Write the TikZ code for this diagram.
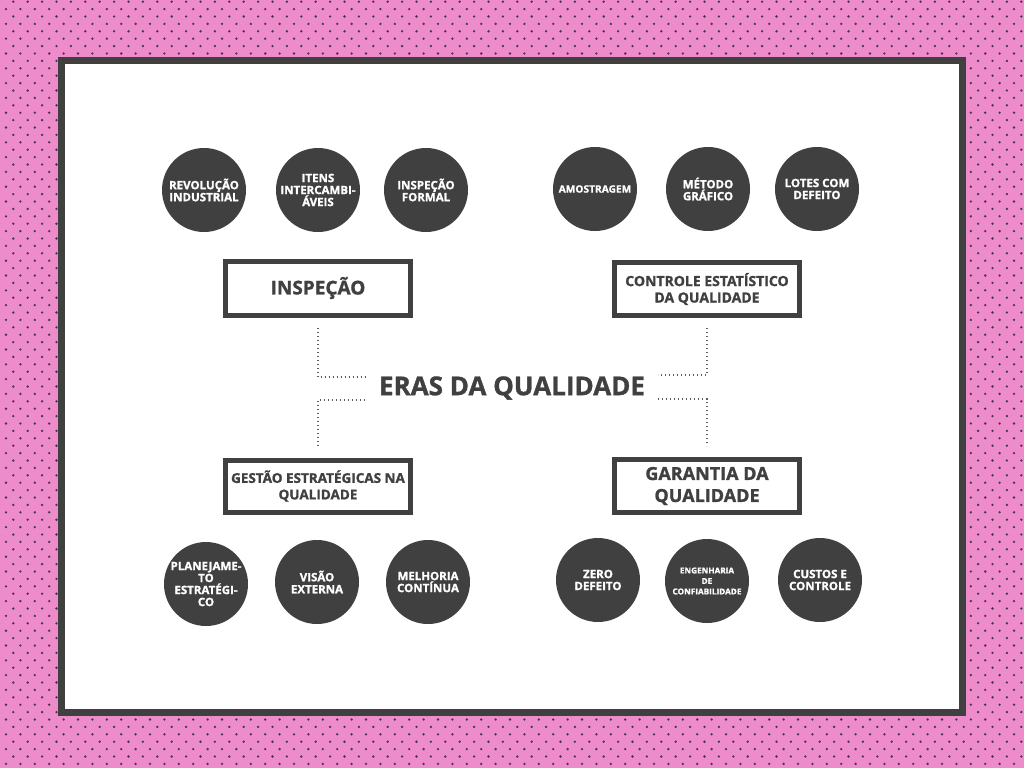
\documentclass[tikz,border=0pt]{standalone}
\usepackage{fontspec}
\setmainfont{Open Sans}[BoldFeatures={FakeBold=1.2}]
\definecolor{pinkbg}{RGB}{238,139,203}
\definecolor{dotc}{RGB}{62,58,72}
\definecolor{dg}{RGB}{64,64,64}
\tikzset{
  circ/.style={circle, fill=dg, text=white, minimum size=84pt, inner sep=0pt, align=center,
    font=\bfseries\fontsize{11.5}{12}\selectfont},
  box/.style={draw=dg, line width=5pt, fill=white, minimum width=185pt, inner sep=0pt,
    text=dg, align=center},
  dotline/.style={draw=dg!85, line width=1.1pt, dash pattern=on 1.1pt off 2.9pt}
}
\begin{document}
\begin{tikzpicture}[x=1pt,y=-1pt]
\useasboundingbox (0,0) rectangle (1024,768);
% background
\fill[pinkbg] (0,0) rectangle (1024,768);
% full rows (top and bottom bands)
\foreach \r in {0,1,2,3,4,48,49,50,51,52} {
  \fill[dotc] \foreach \c in {-1,...,71} { (13.3+14.4*\c, 1.7+14.8*\r) circle[radius=1.3pt] };
}
\foreach \r in {0,1,2,3,48,49,50,51} {
  \fill[dotc] \foreach \c in {0,...,71} { (6+14.4*\c, 9.1+14.8*\r) circle[radius=1.3pt] };
}
% side columns
\foreach \r in {5,...,47} {
  \fill[dotc] \foreach \c in {-1,0,1,2,3,66,67,68,69,70,71} { (13.3+14.4*\c, 1.7+14.8*\r) circle[radius=1.3pt] };
  \fill[dotc] \foreach \c in {0,1,2,3,66,67,68,69,70,71} { (6+14.4*\c, 9.1+14.8*\r) circle[radius=1.3pt] };
}
\fill[dotc] \foreach \c in {0,1,2,3,66,67,68,69,70,71} { (6+14.4*\c, 9.1+14.8*4) circle[radius=1.3pt] };
% frame
\fill[dg] (58,57) rectangle (966,716);
\fill[white] (65,64) rectangle (959,709);
% title
\node[text=dg, font=\bfseries\fontsize{26}{30}\selectfont, inner sep=0pt] (title) at (512,388) {ERAS DA QUALIDADE};
% boxes
\node[box, minimum height=54pt, font=\bfseries\fontsize{19}{22}\selectfont] (insp) at (318,288) {INSPEÇÃO};
\node[box, minimum height=53pt, font=\bfseries\fontsize{14}{16.5}\selectfont] (ceq) at (707,289) {CONTROLE ESTATÍSTICO\\DA QUALIDADE};
\node[box, minimum height=52pt, font=\bfseries\fontsize{13.5}{16.5}\selectfont] (gest) at (318,486) {GESTÃO ESTRATÉGICAS NA\\QUALIDADE};
\node[box, minimum height=53pt, font=\bfseries\fontsize{18}{22}\selectfont] (gar) at (707,486) {GARANTIA DA\\QUALIDADE};
% connector ends
\coordinate (tl) at (365,377);
\coordinate (tr) at (658,375);
\coordinate (bl) at (365,400);
\coordinate (br) at (658,399);
\draw[dotline] ([yshift=-10pt]insp.south) |- (tl);
\draw[dotline] ([yshift=-10pt]ceq.south) |- (tr);
\draw[dotline] (bl) -| ([yshift=11pt]gest.north);
\draw[dotline] (br) -| ([yshift=11pt]gar.north);
% top circles
\node[circ] (c1) at (204,190) {REVOLUÇÃO\\INDUSTRIAL};
\node[circ] (c2) at (318,190) {ITENS\\INTERCAMBI-\\ÁVEIS};
\node[circ] (c3) at (426,190) {INSPEÇÃO\\FORMAL};
\node[circ, font=\bfseries\fontsize{10.2}{12}\selectfont] (c4) at (595,189) {AMOSTRAGEM};
\node[circ] (c5) at (708,189) {MÉTODO\\GRÁFICO};
\node[circ] (c6) at (817,189) {LOTES COM\\DEFEITO};
% bottom circles
\node[circ] (c7) at (206,584) {PLANEJAME-\\TO\\ESTRATÉGI-\\CO};
\node[circ] (c8) at (317,582) {VISÃO\\EXTERNA};
\node[circ] (c9) at (428,582) {MELHORIA\\CONTÍNUA};
\node[circ] (c10) at (598,580) {ZERO\\DEFEITO};
\node[circ, font=\bfseries\fontsize{8.2}{10.5}\selectfont] (c11) at (707,581) {ENGENHARIA\\DE\\CONFIABILIDADE};
\node[circ] (c12) at (820,580) {CUSTOS E\\CONTROLE};
\end{tikzpicture}
\end{document}
